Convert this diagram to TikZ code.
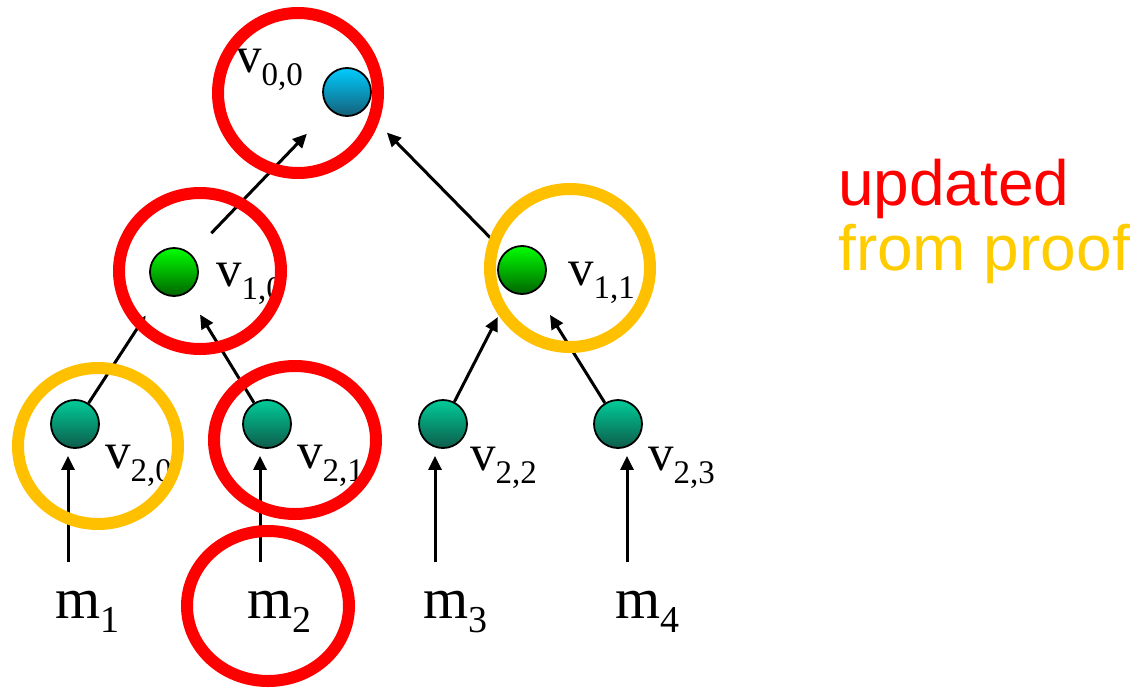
\documentclass[tikz,border=0pt]{standalone}
\usepackage{fontspec}
\setmainfont{Liberation Serif}
\newfontfamily\legendfont{Liberation Sans}
\usetikzlibrary{arrows.meta}
\definecolor{upred}{HTML}{FF0000}
\definecolor{prfyellow}{HTML}{FFC000}
\definecolor{prftext}{HTML}{FFCC00}
\definecolor{roottop}{HTML}{00CCFF}
\definecolor{rootbot}{HTML}{145F78}
\definecolor{midtop}{HTML}{00FF00}
\definecolor{midbot}{HTML}{006400}
\definecolor{leaftop}{HTML}{00CC99}
\definecolor{leafbot}{HTML}{0E5C4A}
\newcommand{\vsub}[1]{v\raisebox{-13pt}{\fontsize{33}{33}\selectfont #1}}
\newcommand{\msub}[1]{m\raisebox{-14pt}{\fontsize{38}{38}\selectfont #1}}
\tikzset{
  ball/.style={circle,draw=black,line width=1.8pt,minimum size=48pt,inner sep=0pt},
  rootball/.style={ball,top color=roottop,bottom color=rootbot},
  midball/.style={ball,top color=midtop,bottom color=midbot},
  leafball/.style={ball,top color=leaftop,bottom color=leafbot},
  vlab/.style={font=\fontsize{51}{51}\selectfont,inner sep=0pt,anchor=base west},
  mlab/.style={font=\fontsize{58}{58}\selectfont,inner sep=0pt,anchor=base west},
  legend/.style={font=\legendfont\fontsize{64}{64}\selectfont,inner sep=0pt,anchor=base west},
  arr/.style={-{Triangle[length=14pt,width=13pt]},line width=3pt},
  ring/.style={line width=12pt}
}
\begin{document}
\begin{tikzpicture}[x=1pt,y=-1pt]
\useasboundingbox (0,0) rectangle (1134,688);
% tree nodes
\node[rootball](v00) at (347,92){};
\node[midball](v10) at (174,272){};
\node[midball](v11) at (522,270){};
\node[leafball](v20) at (75,424){};
\node[leafball](v21) at (267,424){};
\node[leafball](v22) at (443,424){};
\node[leafball](v23) at (618,424){};
\node[vlab](lv00) at (236,72){\vsub{0,0}};
\node[vlab](lv10) at (216,286){\vsub{1,0}};
\node[vlab](lv11) at (568,285){\vsub{1,1}};
\node[vlab](lv20) at (105,468){\vsub{2,0}};
\node[vlab](lv21) at (297,468){\vsub{2,1}};
\node[vlab](lv22) at (470,470){\vsub{2,2}};
\node[vlab](lv23) at (648,470){\vsub{2,3}};
% messages
\node[mlab](m1) at (55,618){\msub{1}};
\node[mlab](m2) at (247,618){\msub{2}};
\node[mlab](m3) at (423,618){\msub{3}};
\node[mlab](m4) at (615,618){\msub{4}};
\coordinate (a1) at ([xshift=13pt,yshift=28pt]m1.north west);
\coordinate (a2) at ([xshift=13pt,yshift=28pt]m2.north west);
\coordinate (a3) at ([xshift=12pt,yshift=28pt]m3.north west);
\coordinate (a4) at ([xshift=12pt,yshift=28pt]m4.north west);
\draw[arr,shorten >=7pt](a1) -- (a1 |- v20.south);
\draw[arr,shorten >=7pt](a2) -- (a2 |- v21.south);
\draw[arr,shorten >=7pt](a3) -- (a3 |- v22.south);
\draw[arr,shorten >=7pt](a4) -- (a4 |- v23.south);
% hashes
\draw[arr,shorten >=27pt](v20) -- (v10);
\draw[arr,shorten >=25pt](v21) -- (v10);
\draw[arr,shorten >=28pt](v22) -- (v11);
\draw[arr,shorten >=28pt](v23) -- (v11);
\draw[arr,shorten <=29pt,shorten >=33pt](v10) -- (v00);
\draw[arr,shorten <=20pt,shorten >=32pt](v11) -- (v00);
% marks
\draw[ring,draw=upred](298,93) ellipse [x radius=80pt,y radius=80pt];
\draw[ring,draw=upred](200,271) ellipse [x radius=81pt,y radius=78pt];
\draw[ring,draw=upred](295,440) ellipse [x radius=81pt,y radius=74pt];
\draw[ring,draw=upred](268,606) ellipse [x radius=81pt,y radius=75pt];
\draw[ring,draw=prfyellow](570,268) ellipse [x radius=80pt,y radius=79pt];
\draw[ring,draw=prfyellow](98,446) ellipse [x radius=80pt,y radius=78pt];
\node[legend,text=upred](upd) at (838,205){updated};
\node[legend,text=prftext](prf) at (838,270){from proof};
\end{tikzpicture}
\end{document}
